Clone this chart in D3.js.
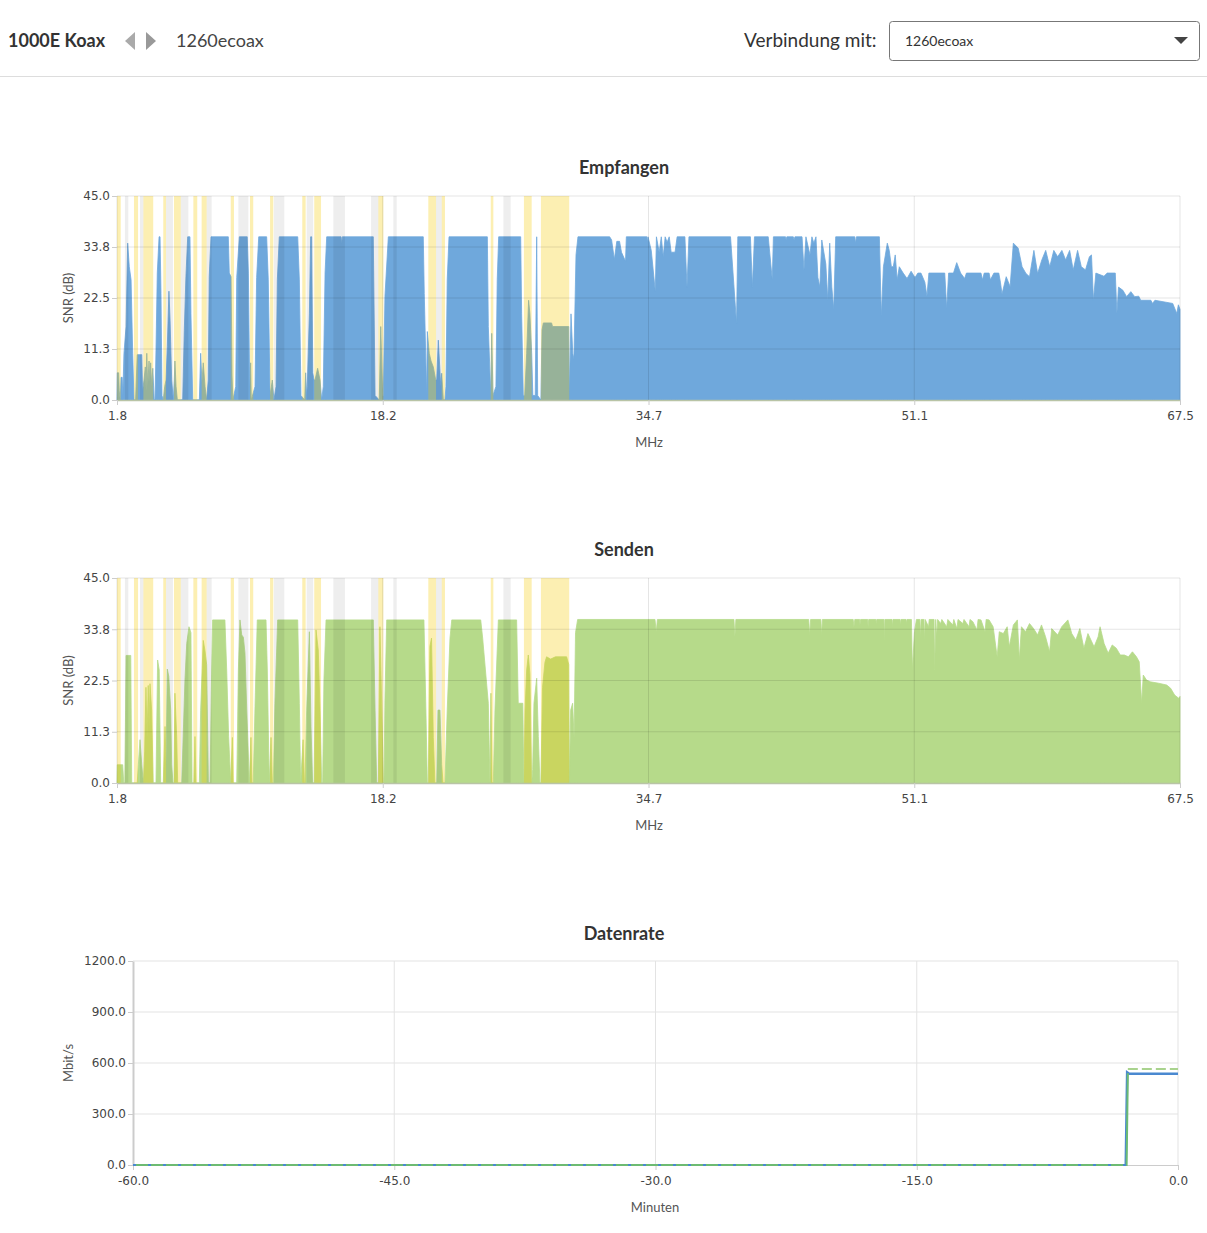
<!DOCTYPE html>
<html>
<head>
<meta charset="utf-8">
<script src="https://cdn.jsdelivr.net/npm/d3@7"></script>
<style>
  body { margin: 0; background: #fff; }
  svg text { font-family: Lato, "Open Sans", sans-serif; }
  .tick text { font-family: "DejaVu Sans", sans-serif; font-size: 12px; fill: #444; }
</style>
</head>
<body>
<svg id="chart"></svg>
<script>
var width = 1207;
var height = 1233;

// Frequency axis (MHz) and SNR axis (dB)
var freqTicks = [1.8, 18.225, 34.65, 51.075, 67.5];
var freqTickLabels = ["1.8", "18.2", "34.7", "51.1", "67.5"];
var snrTicks = [0, 11.25, 22.5, 33.75, 45];
var snrTickLabels = ["0.0", "11.3", "22.5", "33.8", "45.0"];

// Data rate axis
var minuteTicks = [-60, -45, -30, -15, 0];
var minuteTickLabels = ["-60.0", "-45.0", "-30.0", "-15.0", "0.0"];
var rateTicks = [0, 300, 600, 900, 1200];
var rateTickLabels = ["0.0", "300.0", "600.0", "900.0", "1200.0"];

// Amateur radio bands (yellow) and broadcast bands (grey), MHz
var yellowBands = [[1.80, 2.03], [2.85, 3.10], [3.43, 4.04], [4.66, 4.83], [5.32, 5.74], [6.52, 6.76],
  [7.03, 7.34], [8.83, 9.03], [10.02, 10.22], [11.26, 11.46], [13.25, 13.46], [13.99, 14.41],
  [17.95, 18.26], [21.04, 21.52], [21.87, 22.07], [24.90, 25.06], [26.95, 27.43], [28.00, 29.75]];
var grayBands = [[2.29, 2.50], [3.22, 3.43], [4.83, 5.26], [5.74, 6.21], [7.34, 7.65], [9.30, 9.92],
  [11.50, 12.14], [13.52, 13.93], [15.17, 15.89], [17.50, 17.95], [18.88, 19.09], [21.52, 21.87], [25.68, 26.13]];

// Empfangen SNR [MHz, dB]
var rxSnr = [
  [1.80,0],[1.82,6],[1.90,6],[1.94,2],[2.00,0],[2.05,5],[2.12,5],[2.16,1],[2.23,10.3],[2.36,16.2],[2.46,34.6],[2.56,29.4],[2.67,26.5],[2.77,10.3],[2.85,0],
  [2.95,0],[2.98,3],[3.05,10],[3.33,10],[3.38,2],[3.47,4.4],[3.55,7.3],[3.60,2],[3.64,10.3],[3.70,3],[3.78,8.6],[3.83,4],[3.88,8.2],[3.95,3],[4.01,7],[4.10,0],
  [4.15,0],[4.21,11],[4.29,28],[4.40,36],[4.46,36],[4.52,23.5],[4.58,1],[4.66,0],[4.75,3],[4.83,4.4],[4.91,11.8],[5.01,24],[5.08,17.6],[5.18,4.4],[5.28,0],
  [5.34,4.4],[5.38,8.6],[5.45,3],[5.53,0],[5.86,0],[5.96,15.4],[6.06,27.2],[6.17,36],[6.31,36],[6.37,19.1],[6.48,0],
  [6.89,0],[6.97,10.3],[7.05,4],[7.13,8.2],[7.24,3],[7.34,0],[7.44,4.4],[7.50,27.2],[7.61,36],[8.68,36],[8.74,28],[8.85,27.2],[8.91,5.5],[8.96,0],
  [9.14,3],[9.20,27],[9.36,36],[9.85,36],[9.92,28],[10.00,3],[10.06,8.2],[10.10,0],
  [10.33,3],[10.43,27],[10.56,36],[11.05,36],[11.15,26.5],[11.26,1],[11.40,4.4],[11.50,0],
  [11.63,3],[11.71,26.5],[11.83,36],[12.97,36],[13.07,26.5],[13.17,1],[13.40,0],[13.46,6],[13.52,1],[13.56,3],[13.69,19],[13.77,36],[13.83,36],[13.90,6],[13.98,4.4],[14.04,4.4],[14.20,7],[14.35,4.4],[14.45,0],
  [14.55,3],[14.66,28],[14.76,36],[15.65,36],[15.69,34.6],[15.73,36],[17.64,36],[17.75,1],[18.01,0],[18.10,16.2],[18.22,1],[18.26,1],[18.36,22.8],[18.57,36],
  [20.73,36],[20.79,23.5],[20.94,1],[20.98,15.1],[21.10,10.3],[21.21,8.6],[21.35,7.3],[21.50,4.4],[21.56,4.4],[21.66,13.2],[21.81,3],[21.87,5.9],[21.97,0],
  [22.07,0],[22.13,3],[22.21,26.5],[22.32,36],[24.69,36],[24.75,16.2],[24.90,1],[24.96,14.7],[25.04,1],[25.22,3],[25.30,26.5],[25.39,36],[26.75,36],[26.81,19],[26.91,1],
  [27.00,1],[27.12,10.3],[27.24,22],[27.32,19],[27.43,10.3],[27.50,1],[27.65,1],[27.74,36],[27.80,1],[28.00,0],[28.07,15.5],[28.15,17],[28.66,17],[28.72,16.2],[29.72,16.2],[29.76,1],
  [29.86,19],[29.97,10.3],[30.04,9],[30.17,32],[30.29,36],[32.25,36],[32.37,35.3],[32.54,31],[32.69,35],[32.86,35],[32.98,32.6],[33.23,30.6],[33.28,36],
  [34.55,36],[34.58,34.8],[34.62,36],[34.82,33],[35.07,24],[35.14,36],[35.31,32.6],[35.44,36],[35.56,31.6],[35.68,36],[35.80,34.8],[35.93,36],[36.05,32.6],[36.29,32.6],[36.42,36],
  [36.90,36],[37.03,24.9],[37.15,36],[39.72,36],[40.09,16.9],[40.17,36],[40.95,36],[41.07,24.9],[41.20,36],[42.05,36],[42.30,26.5],[42.37,36],
  [43.12,36],[43.16,35.3],[43.20,36],[43.60,36],[43.65,35.3],[43.70,36],[44.14,36],[44.26,28.7],[44.38,36],[44.63,32],[44.75,36],[44.87,34.6],[45.00,36],
  [45.12,27],[45.24,24.9],[45.36,35.3],[45.61,30],[45.73,22],[45.85,34.6],[45.98,24.9],[46.10,20],[46.22,36],[47.40,36],[47.45,34.6],[47.50,36],[48.92,36],
  [49.04,18.4],[49.17,29.4],[49.41,34.6],[49.53,33],[49.66,29.4],[49.78,29.4],[49.90,32],[50.02,26.5],[50.15,29.4],[50.39,28],[50.63,26.8],[50.88,28.4],[51.12,27],
  [51.30,28],[51.49,28],[51.73,26],[51.86,22.9],[51.98,28],[52.96,28],[53.08,20.2],[53.20,28],[53.50,28],[53.70,30.3],[53.94,28],[54.19,26.8],[54.30,28],
  [55.20,28],[55.29,26.5],[55.40,28],[55.70,28],[55.78,26.5],[56.00,28],[56.30,28],[56.40,26],[56.50,23.4],[56.76,27.2],[57.00,25],[57.20,34.6],[57.50,33.5],
  [57.74,29.4],[57.98,27.9],[58.20,27.2],[58.47,33],[58.70,27.9],[58.96,30.9],[59.20,33],[59.45,29.4],[59.70,33],[59.94,31.6],[60.20,33],[60.43,30.9],[60.68,33],
  [60.90,28.7],[61.17,33],[61.40,29.4],[61.66,28.7],[61.90,31.6],[62.03,32],[62.15,22],[62.30,28],[62.80,27.3],[63.00,28],[63.50,28],[63.60,19.1],[63.70,24.9],
  [63.97,24.2],[64.20,22.8],[64.46,23.9],[64.70,22.8],[64.95,22.9],[65.07,22],[65.70,22],[65.80,21.3],[65.95,22],[67.05,21.3],[67.30,19.1],[67.40,21],[67.50,20]
];

// Senden SNR [MHz, dB]
var txSnr = [
  [1.80,0],[1.82,4],[2.15,4],[2.22,0],[2.28,0],[2.33,16],[2.36,28],[2.65,28],[2.71,0],[3.05,0],[3.12,4],[3.22,9.5],[3.33,4],[3.43,0],
  [3.51,7],[3.59,21],[3.66,10],[3.73,21.4],[3.78,12],[3.84,21.8],[3.94,16],[4.04,0],[4.21,0],[4.31,27],[4.41,24.8],[4.50,0],
  [4.66,0],[4.77,12.4],[4.83,4],[4.91,25],[5.00,23.4],[5.12,16],[5.18,4],[5.26,0],[5.32,0],[5.38,19.7],[5.49,10.2],[5.55,0],
  [5.80,0],[6.00,22.6],[6.11,30.6],[6.25,34.3],[6.37,33],[6.44,0],[6.55,0],[6.62,10.2],[6.68,0],[6.89,0],[6.97,16],[7.13,31.3],[7.24,29],[7.34,26],[7.45,0],
  [7.55,0],[7.65,24.8],[7.71,35.8],[8.47,35.8],[8.58,24.8],[8.70,10.2],[8.83,0],[8.93,10],[8.98,0],
  [9.20,0],[9.30,24.8],[9.40,35.8],[9.51,32.5],[9.61,32],[9.71,28.5],[9.82,16],[9.98,0],[10.08,10],[10.14,0],
  [10.22,0],[10.33,16.8],[10.47,35.8],[11.01,35.8],[11.09,24.8],[11.21,0],[11.32,10],[11.40,0],
  [11.46,0],[11.56,17.5],[11.73,35.8],[12.97,35.8],[13.07,17.5],[13.15,0],[13.30,9.5],[13.38,0],
  [13.42,0],[13.52,16],[13.69,33.2],[13.79,12.4],[13.89,0],[13.98,0],[14.10,33.6],[14.24,29.2],[14.35,16],[14.45,0],
  [14.51,0],[14.59,22.6],[14.72,35.8],[17.64,35.8],[17.75,16],[17.85,0],[17.95,0],[18.05,34.3],[18.16,17.5],[18.26,0],
  [18.30,0],[18.36,18.2],[18.47,35.8],[20.77,35.8],[20.90,14.7],[20.98,0],[21.04,0],[21.14,30],[21.24,31.8],[21.35,10],[21.45,0],
  [21.56,0],[21.64,16],[21.76,16],[21.87,4],[21.95,0],[22.07,0],[22.21,16],[22.38,31.8],[22.49,35.8],[24.28,35.8],[24.40,31.8],[24.75,17.5],[24.85,0],
  [24.91,19.7],[24.98,0],[25.06,0],[25.16,16],[25.37,35.8],[26.50,35.8],[26.60,17.5],[26.88,17.5],[26.95,0],
  [27.02,16],[27.12,24.8],[27.22,28.1],[27.32,24],[27.43,0],[27.49,3],[27.57,17.5],[27.74,23],[27.84,10.2],[27.94,0],
  [28.00,0],[28.10,21],[28.25,26.5],[28.35,27.7],[28.60,27.2],[28.90,27.7],[29.59,27.7],[29.72,26],[29.76,0],
  [29.84,16],[29.96,17.5],[30.05,10],[30.14,33],[30.27,35.9],[35.05,35.9],[35.13,33.2],[35.20,35.9],[39.93,35.9],[39.99,32.1],[40.05,35.9],
  [44.55,35.9],[44.61,32.5],[44.67,35.9],[45.30,35.9],[45.35,32.5],[45.40,35.9],[47.30,35.9],[47.35,34.3],[47.40,35.9],[47.70,35.9],[47.72,34.7],[47.76,35.9],
  [48.20,35.9],[48.22,34.3],[48.26,35.9],[48.70,35.9],[48.72,35.0],[48.76,35.9],[49.20,35.9],[49.22,31.4],[49.26,35.9],[49.70,35.9],[49.72,34.3],[49.76,35.9],
  [50.20,35.9],[50.22,34.7],[50.26,35.9],[50.57,35.9],[50.59,35.0],[50.63,35.9],[50.90,35.9],[50.96,24.8],[51.09,33.2],[51.21,35.9],[51.42,35.9],[51.46,32.1],[51.50,35.9],
  [51.67,35.9],[51.71,31.4],[51.75,35.9],[51.96,34.3],[52.00,35.9],[52.30,35.9],[52.34,24.8],[52.40,35.9],[52.46,32.1],[52.52,35.9],[52.71,35.0],[52.78,35.9],
  [53.08,34.3],[53.15,35.9],[53.46,34.7],[53.52,35.9],[53.71,33.9],[53.78,35.9],[54.08,35.0],[54.15,35.9],[54.46,34.3],[54.52,35.9],[54.70,35.4],[54.95,33.6],[55.02,35.9],
  [55.20,35.8],[55.45,33.2],[55.52,35.9],[55.70,35.8],[55.95,34.3],[56.20,27.7],[56.33,33.2],[56.58,32.8],[56.82,34.3],[56.95,29.9],[57.20,34.7],[57.45,35.8],
  [57.57,27.0],[57.70,34.3],[57.95,33.2],[58.20,35.0],[58.45,33.9],[58.70,32.5],[58.94,34.7],[59.19,32.1],[59.44,28.8],[59.57,33.9],[59.94,32.5],[60.19,34.3],
  [60.57,35.8],[60.81,32.8],[61.06,31.4],[61.31,33.9],[61.56,29.6],[61.81,32.8],[62.19,29.9],[62.44,32.1],[62.56,34.3],[62.81,30.6],[63.06,28.5],[63.31,30.3],
  [63.56,29.6],[63.81,28.1],[64.06,28.1],[64.31,27.7],[64.56,28.8],[64.81,27.7],[64.98,26.6],[65.13,17.5],[65.23,23.7],[65.43,22.6],[65.68,22.2],[66.18,21.9],
  [66.68,21.5],[66.92,20.8],[67.17,19.3],[67.42,18.6],[67.50,19]
];

// Datenrate (minutes, Mbit/s)
var rxRateMinutes = [-3.0, -2.92, -2.8, 0];
var rxRateValues = [0, 545, 537, 537];
var txRateMinutes = [-60, -2.95, -2.88];
var txRateValues = [0, 0, 540];
var rxCapMinutes = [-60, -2.95];
var rxCapValues = [0, 0];
var txCapMinutes = [-2.88, 0];
var txCapValues = [565, 565];

var svg = d3.select("#chart").attr("width", width).attr("height", height);

// Header bar
svg.append("text").attr("x", 8).attr("y", 47).attr("font-size", "18px").attr("font-weight", "bold")
  .attr("fill", "#333").text("1000E Koax");
svg.append("path").attr("d", "M135,32 L125,41 L135,50 Z").attr("fill", "#aaa");
svg.append("path").attr("d", "M146,32 L156,41 L146,50 Z").attr("fill", "#999");
svg.append("text").attr("x", 176).attr("y", 47).attr("font-size", "18px").attr("fill", "#444").text("1260ecoax");
svg.append("text").attr("x", 744).attr("y", 47).attr("font-size", "19px").attr("fill", "#333").text("Verbindung mit:");
svg.append("rect").attr("x", 889.5).attr("y", 21.5).attr("width", 310).attr("height", 39).attr("rx", 3)
  .attr("fill", "#fff").attr("stroke", "#777");
svg.append("text").attr("x", 905).attr("y", 46).attr("font-size", "14px").attr("fill", "#333").text("1260ecoax");
svg.append("path").attr("d", "M1174,37 L1188,37 L1181,44 Z").attr("fill", "#444");
svg.append("line").attr("x1", 0).attr("x2", width).attr("y1", 76.5).attr("y2", 76.5).attr("stroke", "#ddd");

// One SNR chart with its band overlays
function drawSnr(cfg) {
  var x = d3.scaleLinear().domain([freqTicks[0], freqTicks[freqTicks.length - 1]]).range([117, 1180]);
  var y = d3.scaleLinear().domain([0, 45]).range([cfg.bottom, cfg.top]);
  var g = svg.append("g");

  var area = d3.area().x(d => x(d[0])).y0(y(0)).y1(d => y(d[1]));
  g.append("path").datum(cfg.data).attr("d", area)
    .attr("fill", cfg.color).attr("stroke", cfg.color).attr("stroke-width", 0.8);

  // bands lie over the series, so the series shows through tinted
  g.selectAll(".yband").data(yellowBands).enter().append("rect")
    .attr("x", d => x(d[0])).attr("width", d => x(d[1]) - x(d[0]))
    .attr("y", cfg.top).attr("height", cfg.bottom - cfg.top)
    .attr("fill", "rgba(245,202,0,0.3)");
  g.selectAll(".gband").data(grayBands).enter().append("rect")
    .attr("x", d => x(d[0])).attr("width", d => x(d[1]) - x(d[0]))
    .attr("y", cfg.top).attr("height", cfg.bottom - cfg.top)
    .attr("fill", "rgba(0,0,0,0.065)");

  // grid
  g.selectAll(".hgrid").data(snrTicks.slice(1)).enter().append("line")
    .attr("x1", x.range()[0]).attr("x2", x.range()[1]).attr("y1", d => y(d)).attr("y2", d => y(d))
    .attr("stroke", "rgba(0,0,0,0.1)");
  g.selectAll(".vgrid").data(freqTicks).enter().append("line")
    .attr("x1", d => x(d)).attr("x2", d => x(d)).attr("y1", cfg.top).attr("y2", cfg.bottom)
    .attr("stroke", "rgba(0,0,0,0.1)");

  var xAxis = g.append("g").attr("transform", "translate(0," + cfg.bottom + ")")
    .call(d3.axisBottom(x).tickValues(freqTicks).tickSize(5).tickSizeOuter(0).tickPadding(6)
      .tickFormat((d, i) => freqTickLabels[i]));
  xAxis.select(".domain").attr("stroke", "#b9c4a6").attr("stroke-width", 1.5);
  xAxis.selectAll(".tick line").attr("stroke", "#ccc");

  var yAxis = g.append("g").attr("transform", "translate(117,0)")
    .call(d3.axisLeft(y).tickValues(snrTicks).tickSize(5).tickSizeOuter(0).tickPadding(2)
      .tickFormat((d, i) => snrTickLabels[i]));
  yAxis.select(".domain").remove();
  yAxis.selectAll(".tick line").attr("stroke", "#ccc");

  svg.append("text").attr("x", 624).attr("y", cfg.top - 22).attr("text-anchor", "middle")
    .attr("font-size", "18px").attr("font-weight", "bold").attr("fill", "#333").text(cfg.title);
  svg.append("text").attr("x", 649).attr("y", cfg.bottom + 47).attr("text-anchor", "middle")
    .attr("font-size", "13px").attr("fill", "#555").text("MHz");
  svg.append("text").attr("transform", "translate(73," + ((cfg.top + cfg.bottom) / 2) + ") rotate(-90)")
    .attr("text-anchor", "middle").attr("font-size", "13px").attr("fill", "#555").text("SNR (dB)");
}

drawSnr({ title: "Empfangen", data: rxSnr, color: "#6fa8dc", top: 196, bottom: 400 });
drawSnr({ title: "Senden", data: txSnr, color: "#b6da8a", top: 578, bottom: 783 });

// Datenrate chart
var rx = d3.scaleLinear().domain([-60, 0]).range([133, 1178]);
var ry = d3.scaleLinear().domain([0, 1200]).range([1165, 961]);
var rg = svg.append("g");

rg.selectAll(".hgrid").data(rateTicks.slice(1)).enter().append("line")
  .attr("x1", rx(-60)).attr("x2", rx(0)).attr("y1", d => ry(d)).attr("y2", d => ry(d))
  .attr("stroke", "#e3e3e3");
rg.selectAll(".vgrid").data(minuteTicks.slice(1)).enter().append("line")
  .attr("x1", d => rx(d)).attr("x2", d => rx(d)).attr("y1", ry(1200)).attr("y2", ry(0))
  .attr("stroke", "#e3e3e3");

var rxAxis = rg.append("g").attr("transform", "translate(0,1165)")
  .call(d3.axisBottom(rx).tickValues(minuteTicks).tickSize(5).tickSizeOuter(0).tickPadding(6)
    .tickFormat((d, i) => minuteTickLabels[i]));
rxAxis.select(".domain").attr("stroke", "#ccc");
rxAxis.selectAll(".tick line").attr("stroke", "#ccc");

var ryAxis = rg.append("g").attr("transform", "translate(133,0)")
  .call(d3.axisLeft(ry).tickValues(rateTicks).tickSize(5).tickSizeOuter(0).tickPadding(2)
    .tickFormat((d, i) => rateTickLabels[i]));
ryAxis.select(".domain").attr("stroke", "#ccc").attr("stroke-width", 2);
ryAxis.selectAll(".tick line").attr("stroke", "#ccc");

function rateLine(minutes, values) {
  return d3.line().x((d, i) => rx(minutes[i])).y(d => ry(d))(values);
}

rg.append("path").attr("d", rateLine(rxRateMinutes, rxRateValues))
  .attr("fill", "none").attr("stroke", "#4a89d0").attr("stroke-width", 2.5);
rg.append("path").attr("d", rateLine(txRateMinutes, txRateValues))
  .attr("fill", "none").attr("stroke", "#6dbb72").attr("stroke-width", 2);
rg.append("path").attr("d", rateLine(rxCapMinutes, rxCapValues))
  .attr("fill", "none").attr("stroke", "#4a89d0").attr("stroke-width", 2).attr("stroke-dasharray", "3,12");
rg.append("path").attr("d", rateLine(txCapMinutes, txCapValues))
  .attr("fill", "none").attr("stroke", "#a9d38e").attr("stroke-width", 2).attr("stroke-dasharray", "10,4");

svg.append("text").attr("x", 624).attr("y", 940).attr("text-anchor", "middle")
  .attr("font-size", "18px").attr("font-weight", "bold").attr("fill", "#333").text("Datenrate");
svg.append("text").attr("x", 655).attr("y", 1212).attr("text-anchor", "middle")
  .attr("font-size", "13px").attr("fill", "#555").text("Minuten");
svg.append("text").attr("transform", "translate(73,1063) rotate(-90)")
  .attr("text-anchor", "middle").attr("font-size", "13px").attr("fill", "#555").text("Mbit/s");
</script>
</body>
</html>
